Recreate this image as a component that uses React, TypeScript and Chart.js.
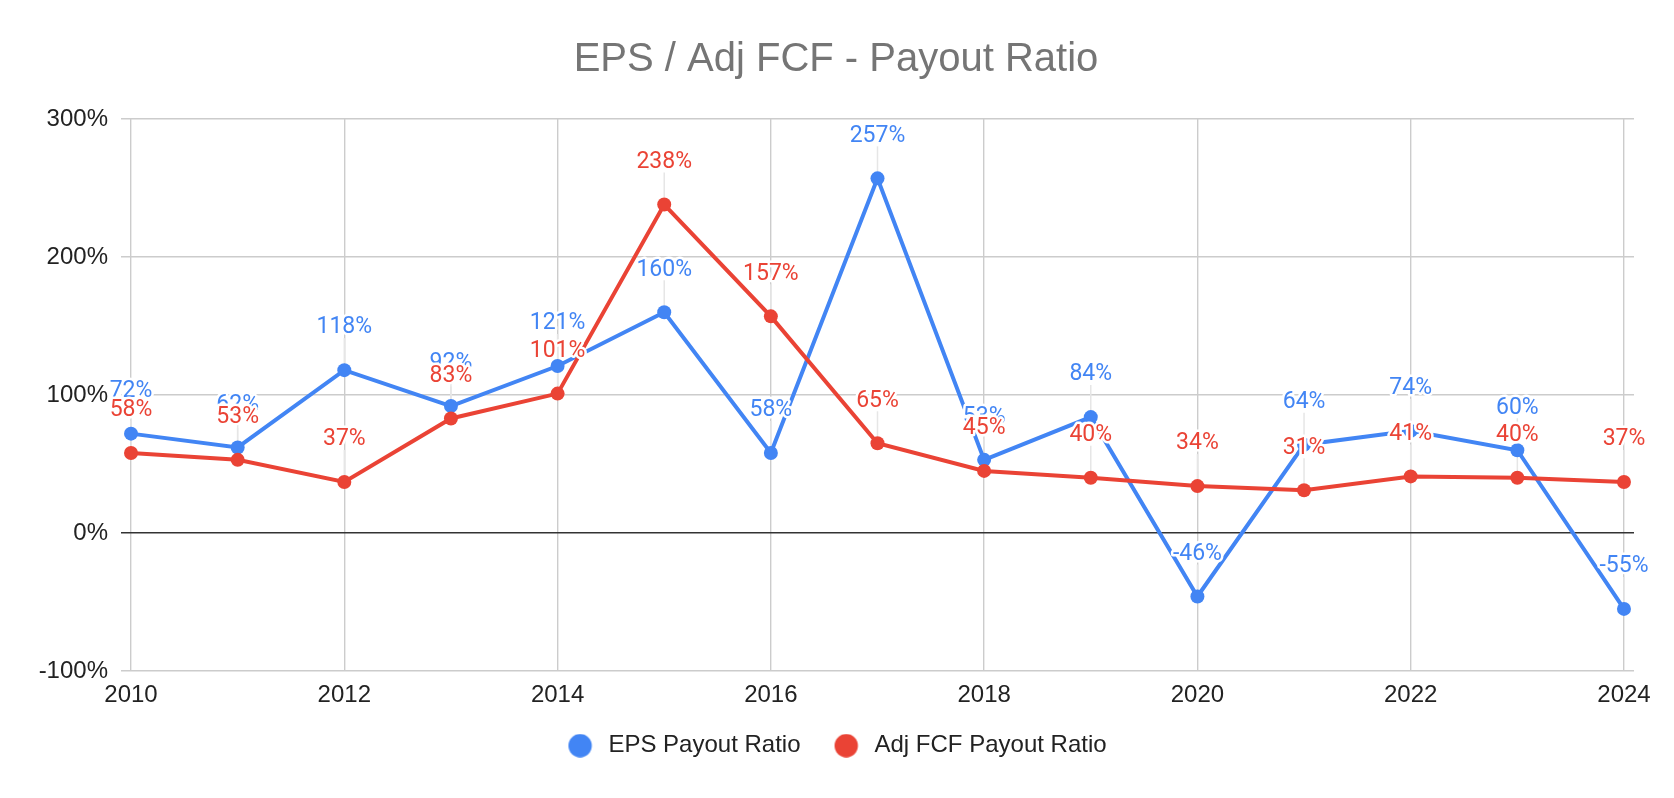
import React, { useEffect, useRef } from 'react';
import { Chart, registerables } from 'chart.js';

Chart.register(...registerables);

// ---- data ----
const years = [2010, 2011, 2012, 2013, 2014, 2015, 2016, 2017, 2018, 2019, 2020, 2021, 2022, 2023, 2024];
const epsPayout = [72, 62, 118, 92, 121, 160, 58, 257, 53, 84, -46, 64, 74, 60, -55];
const fcfPayout = [58, 53, 37, 83, 101, 238, 157, 65, 45, 40, 34, 31, 41, 40, 37];
const xTickValues = [2010, 2012, 2014, 2016, 2018, 2020, 2022, 2024];
const seriesNames = ['EPS Payout Ratio', 'Adj FCF Payout Ratio'];
const seriesColors = ['#4285F4', '#EA4335'];
const titleText = 'EPS / Adj FCF - Payout Ratio';

const AXIS_FONT = '"Liberation Sans", Arial, sans-serif';
const LABEL_FONT = 'Roboto, "Liberation Sans", Arial, sans-serif';

const LEGEND_BOX_W = 31;

function makeDot(color: string): HTMLCanvasElement {
  const c = document.createElement('canvas');
  c.width = LEGEND_BOX_W;
  c.height = 24;
  const g = c.getContext('2d')!;
  g.fillStyle = color;
  g.beginPath();
  g.arc(14.7, 12, 11.7, 0, Math.PI * 2);
  g.fill();
  return c;
}

const pointLabelsPlugin = {
  id: 'pointLabels',
  beforeDatasetsDraw(chart: any) {
    const ctx = chart.ctx;
    ctx.save();
    ctx.strokeStyle = '#e6e6e6';
    ctx.lineWidth = 1.5;
    chart.data.datasets.forEach((_ds: any, di: number) => {
      const meta = chart.getDatasetMeta(di);
      meta.data.forEach((pt: any) => {
        ctx.beginPath();
        ctx.moveTo(pt.x, pt.y - 7);
        ctx.lineTo(pt.x, pt.y - 32);
        ctx.stroke();
      });
    });
    ctx.restore();
  },
  afterDatasetsDraw(chart: any) {
    const ctx = chart.ctx;
    ctx.save();
    ctx.font = `23px ${LABEL_FONT}`;
    ctx.textAlign = 'center';
    ctx.textBaseline = 'alphabetic';
    ctx.lineJoin = 'round';
    chart.data.datasets.forEach((ds: any, di: number) => {
      const meta = chart.getDatasetMeta(di);
      meta.data.forEach((pt: any, i: number) => {
        const text = `${ds.data[i].y}%`;
        const y = pt.y - 36.7;
        ctx.strokeStyle = '#ffffff';
        ctx.lineWidth = 5;
        ctx.strokeText(text, pt.x, y);
        ctx.fillStyle = seriesColors[di];
        ctx.fillText(text, pt.x, y);
      });
    });
    ctx.restore();
  },
};

export default function App() {
  const canvasRef = useRef<HTMLCanvasElement | null>(null);

  useEffect(() => {
    if (!canvasRef.current) return;
    const seriesValues = [epsPayout, fcfPayout];
    const chart = new Chart(canvasRef.current, {
      type: 'line',
      data: {
        datasets: seriesValues.map((vals, si) => ({
          label: seriesNames[si],
          data: years.map((yr, i) => ({ x: yr, y: vals[i] })),
          borderColor: seriesColors[si],
          backgroundColor: seriesColors[si],
          pointBackgroundColor: seriesColors[si],
          pointBorderWidth: 0,
          pointRadius: 7,
          pointHoverRadius: 7,
          borderWidth: 4,
          tension: 0,
          fill: false,
          order: si === 0 ? 1 : 0,
        })),
      },
      options: {
        responsive: false,
        animation: false,
        devicePixelRatio: 1,
        layout: { padding: { left: 38, right: 40, top: 0, bottom: 30.3 } },
        scales: {
          x: {
            type: 'linear',
            min: 2010 - 0.094,
            max: 2024 + 0.094,
            afterBuildTicks: (scale: any) => {
              scale.ticks = xTickValues.map((v) => ({ value: v }));
            },
            afterFit: (scale: any) => {
              scale.height = 31.7;
            },
            ticks: {
              callback: (v: any) => String(v),
              color: '#222222',
              font: { family: AXIS_FONT, size: 24 },
              padding: 10,
              maxRotation: 0,
              autoSkip: false,
            },
            grid: { color: '#cccccc', lineWidth: 1.4, drawTicks: false },
            border: { display: false },
          },
          y: {
            min: -100,
            max: 300,
            ticks: {
              stepSize: 100,
              callback: (v: any) => `${v}%`,
              color: '#222222',
              font: { family: AXIS_FONT, size: 24 },
              padding: 13,
            },
            afterFit: (scale: any) => {
              scale.width = 83;
            },
            grid: {
              color: (c: any) => (c.tick && c.tick.value === 0 ? '#333333' : '#cccccc'),
              lineWidth: (c: any) => (c.tick && c.tick.value === 0 ? 1.6 : 1.4),
              drawTicks: false,
            },
            border: { display: false },
          },
        },
        plugins: {
          title: {
            display: true,
            text: titleText,
            color: '#757575',
            font: { family: AXIS_FONT, size: 40, weight: 'normal' },
            padding: { top: 35.6, bottom: 35.4 },
          },
          legend: {
            display: true,
            position: 'bottom',
            labels: {
              usePointStyle: true,
              pointStyleWidth: LEGEND_BOX_W,
              boxHeight: 16.5,
              padding: 31,
              color: '#222222',
              font: { family: AXIS_FONT, size: 24 },
              sort: (a: any, b: any) => a.datasetIndex - b.datasetIndex,
              generateLabels: (ch: any) => {
                const base = (Chart.defaults.plugins.legend.labels as any).generateLabels(ch);
                return base.map((it: any) => ({
                  ...it,
                  pointStyle: makeDot(seriesColors[it.datasetIndex]),
                }));
              },
            },
          },
          tooltip: { enabled: false },
        },
      } as any,
      plugins: [pointLabelsPlugin],
    });
    return () => chart.destroy();
  }, []);

  return (
    <div style={{ position: 'absolute', left: 0, top: 0, width: 1674, height: 798, background: '#fff' }}>
      <canvas ref={canvasRef} width={1674} height={798} style={{ display: 'block' }} />
    </div>
  );
}
